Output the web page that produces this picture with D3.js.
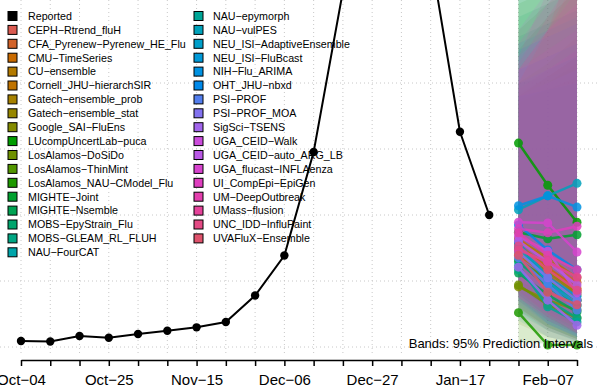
<!DOCTYPE html>
<html><head><meta charset="utf-8">
<script src="https://cdn.jsdelivr.net/npm/d3@7"></script>
<style>
html,body{margin:0;padding:0;background:#fff;}
svg{display:block;font-family:"Liberation Sans",Arial,Helvetica,sans-serif;}
</style></head>
<body><svg id="chart" width="597" height="392"></svg>
<script>
// ---------------- DATA ----------------
const weeks = ["2025-10-04","2025-10-11","2025-10-18","2025-10-25","2025-11-01","2025-11-08","2025-11-15","2025-11-22","2025-11-29","2025-12-06","2025-12-13","2025-12-20","2025-12-27","2026-01-03","2026-01-10","2026-01-17","2026-01-24","2026-01-31","2026-02-07","2026-02-14"];
const tickLabelDates = ["2025-10-04","2025-10-25","2025-11-15","2025-12-06","2025-12-27","2026-01-17","2026-02-07"];
const tickLabels = ["Oct\u221204","Oct\u221225","Nov\u221215","Dec\u221206","Dec\u221227","Jan\u221217","Feb\u221207"];
const gridValues = [0,100,200,300,400];

const reported = [9.1,8.3,16.7,14.1,19.7,24.7,29.8,37.9,78.0,138.6,295.5,539,692,670,592,326.2,200];

const forecastDates = ["2026-01-31","2026-02-07","2026-02-14"];

const models = ["CEPH\u2212Rtrend_fluH","CFA_Pyrenew\u2212Pyrenew_HE_Flu","CMU\u2212TimeSeries","CU\u2212ensemble","Cornell_JHU\u2212hierarchSIR","Gatech\u2212ensemble_prob","Gatech\u2212ensemble_stat","Google_SAI\u2212FluEns","LUcompUncertLab\u2212puca","LosAlamos\u2212DoSiDo","LosAlamos\u2212ThinMint","LosAlamos_NAU\u2212CModel_Flu","MIGHTE\u2212Joint","MIGHTE\u2212Nsemble","MOBS\u2212EpyStrain_Flu","MOBS\u2212GLEAM_RL_FLUH","NAU\u2212FourCAT","NAU\u2212epymorph","NAU\u2212vulPES","NEU_ISI\u2212AdaptiveEnsemble","NEU_ISI\u2212FluBcast","NIH\u2212Flu_ARIMA","OHT_JHU\u2212nbxd","PSI\u2212PROF","PSI\u2212PROF_MOA","SigSci\u2212TSENS","UGA_CEID\u2212Walk","UGA_CEID\u2212auto_ARG_LB","UGA_flucast\u2212INFLAenza","UI_CompEpi\u2212EpiGen","UM\u2212DeepOutbreak","UMass\u2212flusion","UNC_IDD\u2212InfluPaint","UVAFluX\u2212Ensemble"];

const medians = [
[147,117,86],[165,129,98],[155,120,89],[162,135,105],[139,109,71],
[150,117,83],[144,114,79],[91,71,56],[309,245,189],[94,64,44],
[132,102,71],[52,3,3],[174,164,170],[112,79,53],[129,91,62],
[117,71,44],[159,98,71],[123,61,38],[208,229,248],[152,98,64],
[158,106,77],[214,229,212],[185,147,117],[135,94,56],[144,105,71],
[121,71,33],[168,145,82],[161,129,94],[189,188,144],[179,173,183],
[173,139,117],[147,129,106],[153,117,86],[139,83,64]];

const lower95 = [
[70,40,20],[95,55,30],[80,45,22],[90,60,35],[60,30,12],
[85,50,25],[80,45,20],[35,15,6],[150,80,40],[8,6,5],
[55,30,12],[6,5,5],[90,60,40],[50,25,10],[60,30,12],
[55,25,8],[70,35,15],[40,15,6],[100,80,60],[80,40,18],
[75,35,15],[110,90,60],[90,55,30],[65,35,15],[70,40,18],
[45,15,6],[80,50,20],[75,45,22],[100,80,50],[90,70,50],
[85,50,30],[75,45,22],[75,40,20],[60,25,10]];

const upper95 = [
[380,400,430],[370,390,410],[390,420,450],[380,410,440],[400,430,470],
[375,390,410],[385,410,440],[450,500,540],[600,620,640],[480,520,560],
[560,600,640],[520,540,560],[560,560,560],[500,520,540],[470,490,510],
[400,410,420],[540,540,540],[580,560,540],[460,480,500],[380,390,400],
[400,420,440],[450,470,490],[420,440,460],[380,400,420],[390,420,450],
[420,450,480],[480,540,600],[440,480,520],[460,520,580],[440,540,640],
[420,480,540],[430,500,570],[420,480,560],[400,480,600]];

// hue rank used for the colour palette (style)
const hueRank = [0,1,2,4,3,5,6,7,11,8,9,10,12,13,14,15,17,16,18,19,20,21,22,23,24,25,27,26,28,29,30,31,32,33];

// ---------------- COLOURS (R-like polarLUV hcl) ----------------
function hclLuv(h, c, l){
  const hr = h*Math.PI/180, U = c*Math.cos(hr), V = c*Math.sin(hr);
  const Xn=95.047, Yn=100, Zn=108.883;
  const den = Xn+15*Yn+3*Zn, un = 4*Xn/den, vn = 9*Yn/den;
  const Y = Yn*(l>7.999592 ? Math.pow((l+16)/116,3) : l/903.3);
  const u = U/(13*l)+un, v = V/(13*l)+vn;
  const X = 9*Y*u/(4*v), Z = -X/3 - 5*Y + 3*Y/v;
  const x=X/100, y=Y/100, z=Z/100;
  let r = 3.240479*x - 1.537150*y - 0.498535*z;
  let g = -0.969256*x + 1.875992*y + 0.041556*z;
  let b = 0.055648*x - 0.204043*y + 1.057311*z;
  const gam = t => { t = t<=0.0031308 ? 12.92*t : 1.055*Math.pow(t,1/2.4)-0.055; return Math.round(255*Math.max(0,Math.min(1,t))); };
  return d3.rgb(gam(r),gam(g),gam(b)).formatHex();
}
const nM = models.length;
const color = i => hclLuv(15 + hueRank[i]*360/nM, 100, 55);

// ---------------- CHART ----------------
const parse = d3.utcParse("%Y-%m-%d");
const W = 597, H = 392;
const svg = d3.select("#chart");
svg.append("rect").attr("width",W).attr("height",H).attr("fill","#fff");

const x = d3.scaleUtc().domain([parse(weeks[0]), parse(weeks[weeks.length-1])]).range([21, 577]);
const y = d3.scaleLinear().domain([0,400]).range([347,83]);

svg.append("defs").append("clipPath").attr("id","plotclip")
  .append("rect").attr("x",0).attr("y",0).attr("width",W).attr("height",356);

const plot = svg.append("g").attr("clip-path","url(#plotclip)");

// grid
plot.selectAll("line.hg").data(gridValues).join("line")
  .attr("x1",0).attr("x2",W).attr("y1",d=>y(d)).attr("y2",d=>y(d))
  .attr("stroke","#c8c8c8").attr("stroke-width",1).attr("stroke-dasharray","1,3");
plot.selectAll("line.vg").data(weeks).join("line")
  .attr("x1",d=>x(parse(d))).attr("x2",d=>x(parse(d))).attr("y1",0).attr("y2",356)
  .attr("stroke","#c8c8c8").attr("stroke-width",1).attr("stroke-dasharray","1,3");

// legend
const legendItems = [{name:"Reported", col:"#000"}].concat(models.map((m,i)=>({name:m, col:color(i)})));
const perCol = 18, rowH = 13.9;
const lg = svg.append("g");
legendItems.forEach((d,i)=>{
  const c = Math.floor(i/perCol), r = i%perCol;
  const sx = c===0 ? 8 : 194, tx = c===0 ? 28 : 213, cy = 16 + r*rowH;
  lg.append("rect").attr("x",sx).attr("y",cy-4.5).attr("width",9).attr("height",9)
    .attr("fill",d.col).attr("stroke","#000").attr("stroke-width",1);
  lg.append("text").attr("x",tx).attr("y",cy).attr("dy","0.36em")
    .attr("font-size","10.7px").attr("fill","#000").text(d.name);
});

// bands
const area = d3.area().x(d=>x(d.date)).y0(d=>y(d.lo)).y1(d=>y(d.hi));
models.forEach((m,i)=>{
  const pts = forecastDates.map((fd,k)=>({date:parse(fd), lo:lower95[i][k], hi:upper95[i][k]}));
  plot.append("path").datum(pts).attr("d",area).attr("fill",color(i)).attr("fill-opacity",0.1).attr("stroke","none");
});

// reported
const repData = reported.map((v,k)=>({date:parse(weeks[k]), v}));
const line = d3.line().x(d=>x(d.date)).y(d=>y(d.v));
plot.append("path").datum(repData).attr("d",line).attr("fill","none").attr("stroke","#000").attr("stroke-width",2);
plot.selectAll("circle.rep").data(repData).join("circle")
  .attr("cx",d=>x(d.date)).attr("cy",d=>y(d.v)).attr("r",4.2).attr("fill","#000");

// model medians
models.forEach((m,i)=>{
  const pts = forecastDates.map((fd,k)=>({date:parse(fd), v:medians[i][k]}));
  const g = plot.append("g").attr("opacity",0.85);
  g.append("path").datum(pts).attr("d",line).attr("fill","none").attr("stroke",color(i)).attr("stroke-width",2.5);
  g.selectAll("circle").data(pts).join("circle")
    .attr("cx",d=>x(d.date)).attr("cy",d=>y(d.v)).attr("r",4.5).attr("fill",color(i));
});

// note
svg.append("text").attr("x",593).attr("y",348).attr("text-anchor","end")
  .attr("font-size","13px").attr("fill","#000").text("Bands: 95% Prediction Intervals");

// x axis
const tickSet = new Map(tickLabelDates.map((d,i)=>[+parse(d), tickLabels[i]]));
const axis = d3.axisBottom(x).tickValues(weeks.map(parse)).tickSize(6).tickSizeOuter(0)
  .tickPadding(8).tickFormat(d => tickSet.get(+d) || "");
const ag = svg.append("g").attr("transform","translate(0,360)").call(axis);
ag.select(".domain").attr("stroke","#000").attr("stroke-width",1.5);
ag.selectAll(".tick line").attr("stroke","#000").attr("stroke-width",1.5);
ag.selectAll(".tick text").attr("font-size","15px").attr("fill","#000")
  .attr("font-family","'Liberation Sans',Arial,sans-serif");
</script></body></html>
